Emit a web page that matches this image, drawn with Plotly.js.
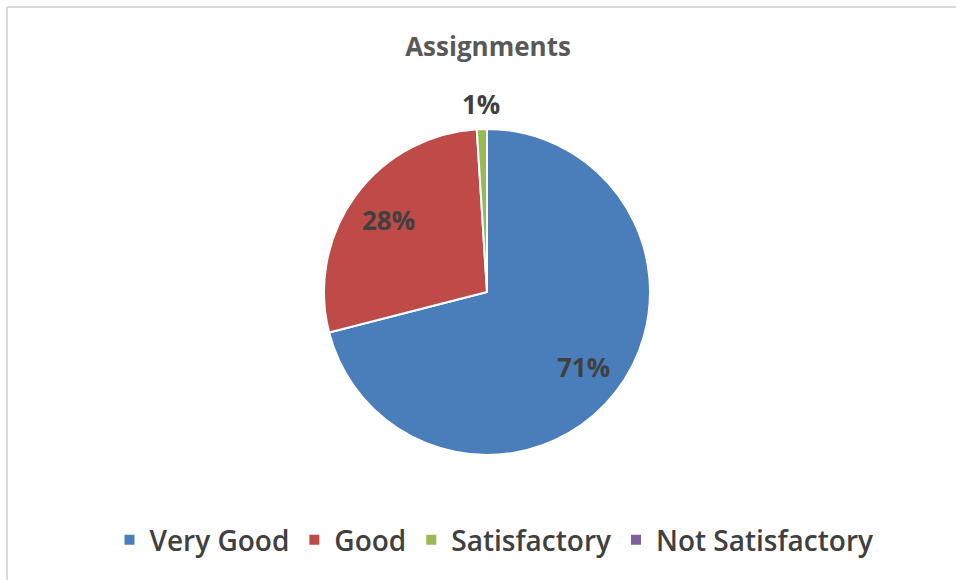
<!DOCTYPE html>
<html>
<head>
<meta charset="utf-8">
<script src="https://cdn.plot.ly/plotly-3.0.1.min.js"></script>
<style>html,body{margin:0;padding:0;background:#fff;}#chart{width:956px;height:580px;}</style>
</head>
<body>
<div id="chart"></div>
<script>
const categories = ["Very Good", "Good", "Satisfactory", "Not Satisfactory"];
const values = [71, 28, 1, 0];
const labelText = ["71%", "28%", "1%", ""];
const labelInside = [true, true, false, false];
const colors = ["#4A7EBB", "#BE4B48", "#98B954", "#7D60A0"];

const W = 956, H = 580;
const cx = 487, cy = 292, R = 163;

const trace = {
  type: "pie",
  labels: categories,
  values: values,
  textinfo: "none",
  sort: false,
  direction: "clockwise",
  rotation: 0,
  marker: { colors: colors, line: { color: "#ffffff", width: 2 } },
  hoverinfo: "label+percent",
  domain: { x: [(cx - R) / W, (cx + R) / W], y: [(H - cy - R) / H, (H - cy + R) / H] },
  automargin: false
};

// data labels positioned from the slice mid-angles (derived from the values)
const total = values.reduce((a, b) => a + b, 0);
const annotations = [];
let cum = 0;
values.forEach((v, i) => {
  const mid = (cum + v / 2) / total * 2 * Math.PI;
  cum += v;
  if (!labelText[i]) return;
  const r = labelInside[i] ? 0.75 * R : 1.155 * R;
  const px = cx + r * Math.sin(mid);
  const py = cy - r * Math.cos(mid);
  annotations.push({
    xref: "paper", yref: "paper",
    x: px / W, y: 1 - py / H,
    xanchor: "center", yanchor: "middle",
    text: "<b>" + labelText[i] + "</b>",
    showarrow: false,
    font: { family: "Open Sans, sans-serif", size: 26, color: "#404040" }
  });
});

const layout = {
  width: W, height: H,
  margin: { l: 0, r: 0, t: 0, b: 0 },
  paper_bgcolor: "#ffffff",
  title: {
    text: "<b>Assignments</b>",
    font: { family: "Open Sans, sans-serif", size: 26, color: "#595959" },
    x: 488 / W, xanchor: "center", y: 1 - 47 / H, yanchor: "middle"
  },
  showlegend: true,
  legend: {
    orientation: "h",
    x: 494 / W, xanchor: "center",
    y: 1 - 540 / H, yanchor: "middle",
    itemgap: 42,
    font: { family: "Open Sans, sans-serif", size: 28, color: "#404040", weight: 600 },
    traceorder: "normal"
  },
  annotations: annotations,
  shapes: [
    { type: "line", xref: "paper", yref: "paper", x0: 7 / W, x1: 7 / W, y0: 0, y1: 1 - 7 / H, line: { color: "#d9d9d9", width: 2 } },
    { type: "line", xref: "paper", yref: "paper", x0: 7 / W, x1: 1, y0: 1 - 7 / H, y1: 1 - 7 / H, line: { color: "#d9d9d9", width: 2 } }
  ]
};

Plotly.newPlot("chart", [trace], layout, { displayModeBar: false, staticPlot: true });
</script>
</body>
</html>
